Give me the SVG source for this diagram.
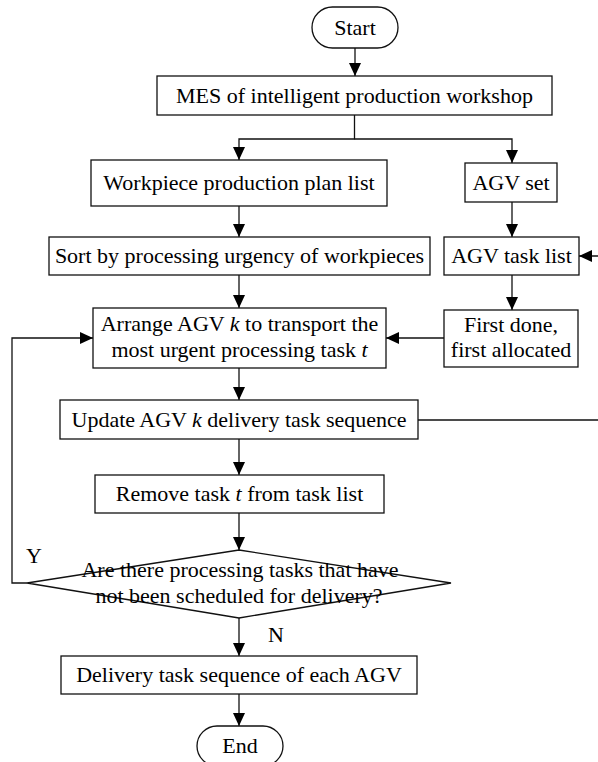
<svg xmlns="http://www.w3.org/2000/svg" width="598" height="762" viewBox="0 0 598 762">
<style>
.box{fill:#fff;stroke:#111;stroke-width:1.3}
.t{font-family:"Liberation Serif","Times New Roman",serif;font-size:22px;fill:#000;text-anchor:middle}
.l{font-family:"Liberation Serif","Times New Roman",serif;font-size:22px;fill:#000}
.c{fill:none;stroke:#111;stroke-width:1.3}
.i{font-style:italic}
</style>
<defs>
<marker id="ah" markerUnits="userSpaceOnUse" viewBox="0 0 13 12" refX="13" refY="6" markerWidth="13" markerHeight="12" orient="auto">
<path d="M0,0 L13,6 L0,12 z" fill="#000"/>
</marker>
</defs>
<rect width="598" height="762" fill="#fff"/>
<g id="connectors">
<path class="c" d="M355,48 V76" marker-end="url(#ah)"/>
<path class="c" d="M354.5,115 V139 H239 V160" marker-end="url(#ah)"/>
<path class="c" d="M354.5,139 H512 V163" marker-end="url(#ah)"/>
<path class="c" d="M239,206 V237" marker-end="url(#ah)"/>
<path class="c" d="M512,202 V237" marker-end="url(#ah)"/>
<path class="c" d="M239,275 V308" marker-end="url(#ah)"/>
<path class="c" d="M512,275 V310" marker-end="url(#ah)"/>
<path class="c" d="M444,338 H386" marker-end="url(#ah)"/>
<path class="c" d="M239,368 V400" marker-end="url(#ah)"/>
<path class="c" d="M418,420 H600 V256 H579" marker-end="url(#ah)"/>
<path class="c" d="M239,439 V475" marker-end="url(#ah)"/>
<path class="c" d="M239,513 V550" marker-end="url(#ah)"/>
<path class="c" d="M27,583 H12 V338 H93" marker-end="url(#ah)"/>
<path class="c" d="M239,618 V656" marker-end="url(#ah)"/>
<path class="c" d="M239,694 V726" marker-end="url(#ah)"/>
<text class="l" x="26" y="563">Y</text>
<text class="l" x="268" y="642">N</text>
</g>
<g id="start">
<rect class="box" x="312" y="7" width="86" height="41" rx="20.5"/>
<text class="t" x="355" y="35">Start</text>
</g>
<g id="mes">
<rect class="box" x="157" y="76" width="395" height="39"/>
<text class="t" x="354.5" y="103">MES of intelligent production workshop</text>
</g>
<g id="workpiece-plan">
<rect class="box" x="91" y="160" width="296" height="46"/>
<text class="t" x="239" y="190">Workpiece production plan list</text>
</g>
<g id="agv-set">
<rect class="box" x="465" y="163" width="92" height="39"/>
<text class="t" x="511" y="190">AGV set</text>
</g>
<g id="sort">
<rect class="box" x="49" y="237" width="381" height="38"/>
<text class="t" x="239.5" y="263">Sort by processing urgency of workpieces</text>
</g>
<g id="agv-task-list">
<rect class="box" x="444" y="237" width="135" height="38"/>
<text class="t" x="511.5" y="263">AGV task list</text>
</g>
<g id="arrange">
<rect class="box" x="93" y="308" width="293" height="60"/>
<text class="t" x="239.5" y="331">Arrange AGV <tspan class="i">k</tspan> to transport the</text>
<text class="t" x="239.5" y="357">most urgent processing task <tspan class="i">t</tspan></text>
</g>
<g id="first-done">
<rect class="box" x="444" y="310" width="134" height="57"/>
<text class="t" x="511" y="332">First done,</text>
<text class="t" x="511" y="357">first allocated</text>
</g>
<g id="update">
<rect class="box" x="60" y="400" width="358" height="39"/>
<text class="t" x="239" y="427">Update AGV <tspan class="i">k</tspan> delivery task sequence</text>
</g>
<g id="remove">
<rect class="box" x="95" y="475" width="289" height="38"/>
<text class="t" x="239.5" y="501">Remove task <tspan class="i">t</tspan> from task list</text>
</g>
<g id="decision">
<polygon class="box" fill="none" style="fill:none" points="239,550 451,583 239,618 27,583"/>
<text class="t" x="240" y="577">Are there processing tasks that have</text>
<text class="t" x="239" y="603">not been scheduled for delivery?</text>
</g>
<g id="delivery">
<rect class="box" x="61" y="656" width="356" height="38"/>
<text class="t" x="239" y="682">Delivery task sequence of each AGV</text>
</g>
<g id="end">
<rect class="box" x="197" y="726" width="86" height="40" rx="20"/>
<text class="t" x="240" y="753">End</text>
</g>
</svg>
